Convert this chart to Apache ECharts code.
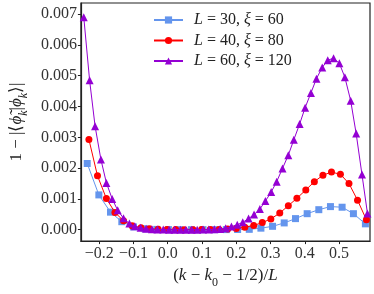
<!DOCTYPE html>
<html><head><meta charset="utf-8">
<script src="https://cdn.jsdelivr.net/npm/echarts@6/dist/echarts.min.js"></script>
<style>html,body{margin:0;padding:0;background:#fff}#c{width:374px;height:294px}</style>
</head><body><div id="c"></div>
<script>
// L = 30, xi = 60
const xBlue = [-0.235,-0.201,-0.167,-0.134,-0.100,-0.066,-0.032,0.002,0.035,0.069,0.103,0.137,0.171,0.204,0.238,0.272,0.306,0.340,0.373,0.407,0.441,0.475,0.509,0.542,0.577];
const yBlue = [0.00215,0.00113,0.00057,0.00026,0.00009,0.00003,0.00001,0.000004,0.000002,0.000002,0.000002,0.000002,0.000003,0.000006,0.000012,0.00005,0.00011,0.00022,0.00036,0.00052,0.00065,0.00075,0.00073,0.00052,0.00019];
// L = 40, xi = 80
const xRed = [-0.230,-0.205,-0.179,-0.154,-0.129,-0.104,-0.078,-0.053,-0.028,-0.002,0.023,0.048,0.074,0.099,0.124,0.150,0.175,0.200,0.225,0.251,0.276,0.301,0.327,0.352,0.377,0.403,0.428,0.453,0.478,0.504,0.529,0.554,0.580];
const yRed = [0.00293,0.00175,0.00101,0.00056,0.00029,0.00013,0.00006,0.00003,0.000012,0.000005,0.000003,0.000002,0.000002,0.000003,0.000005,0.000008,0.00002,0.00004,0.00008,0.00014,0.00023,0.00035,0.00054,0.00078,0.00102,0.00129,0.00156,0.00177,0.00187,0.0018,0.0015,0.00096,0.00032];
// L = 60, xi = 120
const xPurple = [-0.245,-0.228,-0.212,-0.195,-0.179,-0.162,-0.146,-0.129,-0.112,-0.096,-0.079,-0.063,-0.046,-0.030,-0.013,0.004,0.020,0.037,0.053,0.070,0.086,0.103,0.120,0.136,0.153,0.169,0.186,0.203,0.219,0.236,0.252,0.269,0.285,0.302,0.318,0.335,0.352,0.368,0.385,0.401,0.418,0.434,0.451,0.467,0.484,0.501,0.517,0.534,0.550,0.567,0.583];
const yPurple = [0.0069,0.00485,0.00336,0.00228,0.00152,0.0010,0.00063,0.00037,0.0002,0.00011,0.00006,0.00003,0.000015,0.000008,0.000004,0.000002,0.000001,0.000001,0.000001,0.000001,0.000002,0.000003,0.000006,0.000012,0.000025,0.00005,0.0001,0.00016,0.00024,0.00036,0.00049,0.00067,0.00093,0.00122,0.00156,0.00199,0.00242,0.00292,0.00343,0.00396,0.00444,0.0049,0.00527,0.0055,0.00557,0.0054,0.00495,0.00419,0.00312,0.00179,0.00053];

const xTicks = [-0.2,-0.1,0.0,0.1,0.2,0.3,0.4,0.5];
const yTicks = [0,0.001,0.002,0.003,0.004,0.005,0.006,0.007];
const seriesNames = ['{i|L} = 30, {i|ξ} = 60','{i|L} = 40, {i|ξ} = 80','{i|L} = 60, {i|ξ} = 120'];

const FONT = 'Liberation Serif';
const pairs = (xs, ys) => xs.map((x, i) => [x, ys[i]]);
const mathRich = {
  i: {fontFamily: FONT, fontStyle: 'italic', fontSize: 17, color: '#222'},
  s: {fontFamily: FONT, fontStyle: 'italic', fontSize: 12, color: '#222', verticalAlign: 'bottom', padding: [0,0,-5,0]},
  s0: {fontFamily: FONT, fontSize: 12, color: '#222', verticalAlign: 'bottom', padding: [0,0,-5,0]}
};

const chart = echarts.init(document.getElementById('c'), null, {renderer: 'canvas'});
chart.setOption({
  animation: false,
  backgroundColor: '#fff',
  grid: {left: 63, right: 4, top: 3, bottom: 41, show: true, borderColor: '#222', borderWidth: 1.2, backgroundColor: 'transparent'},
  legend: {
    orient: 'vertical', left: 153, top: 12, padding: 0, itemGap: 4.5,
    itemWidth: 29, itemHeight: 9,
    formatter: n => '{g|}' + n,
    textStyle: {fontFamily: FONT, fontSize: 16, color: '#222', lineHeight: 15,
      rich: {g: {width: 6}, i: {fontFamily: FONT, fontStyle: 'italic', fontSize: 16, color: '#222'}}}
  },
  xAxis: {
    type: 'value', min: -0.2534, max: 0.5904,
    axisLine: {show: true, onZero: false, lineStyle: {color: '#222', width: 1.2}},
    axisTick: {show: true, length: 3, lineStyle: {color: '#222'}, customValues: xTicks},
    splitLine: {show: false},
    axisLabel: {customValues: xTicks, margin: 5, fontFamily: FONT, fontSize: 16, color: '#333',
      formatter: v => (v < 0 ? '\u2212' : '') + Math.abs(v).toFixed(1)},
    name: '({i|k} \u2212 {i|k}{s0|0} \u2212 1/2)/{i|L}',
    nameLocation: 'middle', nameGap: 17,
    nameTextStyle: {fontFamily: FONT, fontSize: 17, color: '#222', rich: mathRich}
  },
  yAxis: {
    type: 'value', min: -0.00037, max: 0.00736,
    axisLine: {show: true, onZero: false, lineStyle: {color: '#222', width: 1.2}},
    axisTick: {show: true, length: 3, lineStyle: {color: '#222'}, customValues: yTicks},
    splitLine: {show: false},
    axisLabel: {customValues: yTicks, margin: 4, fontFamily: FONT, fontSize: 16, color: '#333',
      formatter: v => v.toFixed(3)},
    name: '1 \u2212 |\u27E8{i|\u03D5\u0303}{s|k}|{i|\u03D5}{s|k}\u27E9|',
    nameLocation: 'middle', nameGap: 41, nameRotate: 90,
    nameTextStyle: {fontFamily: FONT, fontSize: 17, color: '#222', rich: mathRich}
  },
  series: [
    {name: seriesNames[0], type: 'line', data: pairs(xBlue, yBlue), symbol: 'rect', symbolSize: 7,
      itemStyle: {color: '#6495ED'}, lineStyle: {color: '#6495ED', width: 1}, z: 2},
    {name: seriesNames[1], type: 'line', data: pairs(xRed, yRed), symbol: 'circle', symbolSize: 7,
      itemStyle: {color: '#ff0000'}, lineStyle: {color: '#ff0000', width: 1}, z: 3},
    {name: seriesNames[2], type: 'line', data: pairs(xPurple, yPurple), symbol: 'triangle', symbolSize: 8,
      itemStyle: {color: '#9400D3'}, lineStyle: {color: '#9400D3', width: 1}, z: 4}
  ]
});
</script></body></html>
